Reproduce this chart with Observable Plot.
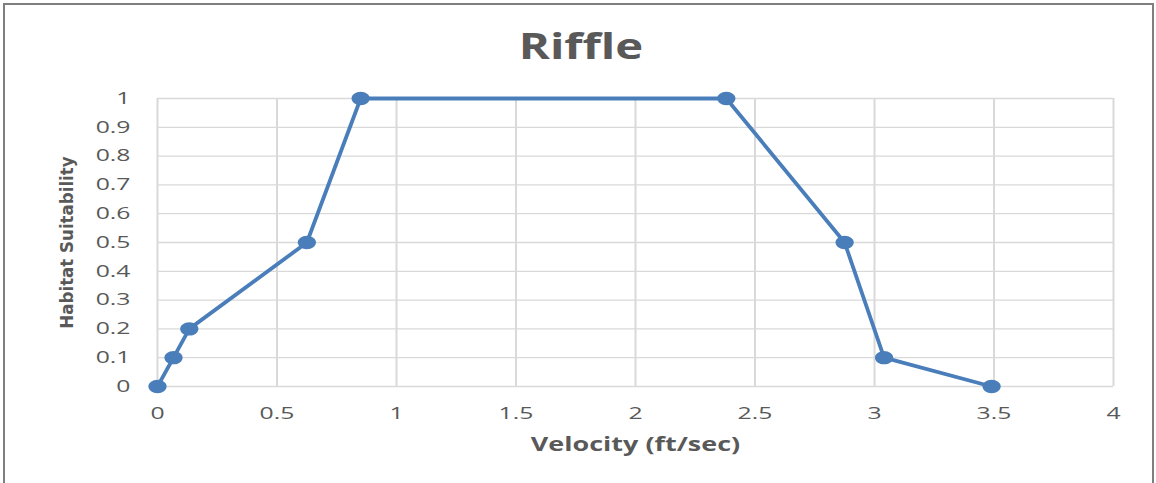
<!DOCTYPE html>
<html>
<head>
<meta charset="utf-8">
<script src="https://cdn.jsdelivr.net/npm/d3@7"></script>
<script src="https://cdn.jsdelivr.net/npm/@observablehq/plot@0.6"></script>
<style>
  html, body { margin: 0; padding: 0; background: #fff; }
  body { width: 1156px; height: 483px; overflow: hidden; position: relative; font-family: "Open Sans", sans-serif; }
  #frame { position: absolute; left: 3px; top: 3px; width: 1151px; height: 520px; border: 2px solid #7f7f7f; box-sizing: border-box; }
  #title { position: absolute; left: 3px; top: 22px; width: 1156px; height: 48px; line-height: 48px; text-align: center;
           font-family: "Open Sans", sans-serif; font-weight: bold; font-size: 35px; color: #595959;
           transform: scaleX(1.35); transform-origin: center; }
  #chart { position: absolute; left: 0; top: 75px; }
</style>
</head>
<body>
<div id="frame"></div>
<div id="title">Riffle</div>
<div id="chart"></div>
<script>
// ---- data ----
const velocity = [0, 0.067, 0.133, 0.625, 0.85, 2.38, 2.875, 3.04, 3.49];
const suitability = [0, 0.1, 0.2, 0.5, 1, 1, 0.5, 0.1, 0];
const xTicks = [0, 0.5, 1, 1.5, 2, 2.5, 3, 3.5, 4];
const xTickLabels = ["0", "0.5", "1", "1.5", "2", "2.5", "3", "3.5", "4"];
const yTicks = [0, 0.1, 0.2, 0.3, 0.4, 0.5, 0.6, 0.7, 0.8, 0.9, 1];
const yTickLabels = ["0", "0.1", "0.2", "0.3", "0.4", "0.5", "0.6", "0.7", "0.8", "0.9", "1"];
const xLabel = "Velocity (ft/sec)";
const yLabel = "Habitat Suitability";

const data = velocity.map((v, i) => ({x: v, y: suitability[i]}));

const blue = "#4a7ebb";
const grid = "#d9d9d9";

const ellipse = {
  draw(ctx, size) {
    const r = Math.sqrt(size / Math.PI);
    const rx = r * 1.3, ry = r * 0.95, k = 0.5523;
    ctx.moveTo(rx, 0);
    ctx.bezierCurveTo(rx, ry * k, rx * k, ry, 0, ry);
    ctx.bezierCurveTo(-rx * k, ry, -rx, ry * k, -rx, 0);
    ctx.bezierCurveTo(-rx, -ry * k, -rx * k, -ry, 0, -ry);
    ctx.bezierCurveTo(rx * k, -ry, rx, -ry * k, rx, 0);
    ctx.closePath();
  }
};

const chart = Plot.plot({
  width: 1156,
  height: 408,
  marginLeft: 157,
  marginRight: 43,
  marginTop: 23,
  marginBottom: 97,
  style: {color: "#595959", fontFamily: "'Open Sans', sans-serif", background: "transparent", overflow: "visible"},
  x: {domain: [0, 4]},
  y: {domain: [0, 1]},
  marks: [
    Plot.gridY(yTicks, {stroke: grid, strokeOpacity: 1, strokeWidth: 1.3}),
    Plot.gridX(xTicks, {stroke: grid, strokeOpacity: 1, strokeWidth: 2}),
    Plot.axisX(xTicks, {tickSize: 0, tickPadding: 21, fontSize: 16.5, label: null,
      tickFormat: d => xTickLabels[xTicks.indexOf(d)]}),
    Plot.axisY(yTicks, {tickSize: 0, tickPadding: 27, fontSize: 16.5, label: null,
      tickFormat: d => yTickLabels[yTicks.indexOf(d)]}),
    Plot.line(data, {x: "x", y: "y", stroke: blue, strokeWidth: 3.8}),
    Plot.dot(data, {x: "x", y: "y", fill: blue, r: 7, symbol: ellipse}),
    Plot.text([xLabel], {text: d => d, frameAnchor: "bottom", dy: 58, textAnchor: "middle", lineAnchor: "middle",
      fontWeight: "bold", fontSize: 19}),
    Plot.text([yLabel], {text: d => d, frameAnchor: "left", dx: -90, rotate: -90, textAnchor: "middle", lineAnchor: "middle",
      fontWeight: "bold", fontSize: 18.5,
      fontFamily: "'Liberation Sans Narrow', 'DejaVu Sans Condensed', 'Arial Narrow', sans-serif"})
  ]
});

document.getElementById("chart").appendChild(chart);

// horizontal stretch of the text, as in the reference
function stretch(el, s) {
  const t = el.getAttribute("transform") || "";
  const x = +(el.getAttribute("x") || 0);
  el.setAttribute("transform", `${t} translate(${x},0) scale(${s},1) translate(${-x},0)`);
}
d3.select(chart).selectAll('g[aria-label="x-axis tick label"] text, g[aria-label="y-axis tick label"] text')
  .each(function() { stretch(this, 1.5); });
d3.select(chart).selectAll("text")
  .filter(function() { return this.textContent === xLabel; })
  .each(function() { stretch(this, 1.42); });
</script>
</body>
</html>
